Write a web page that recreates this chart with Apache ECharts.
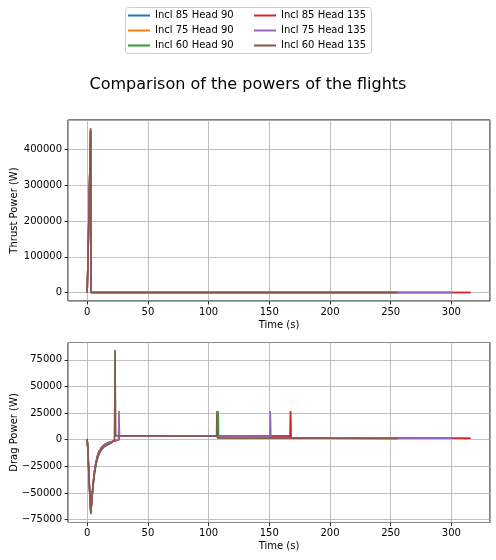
<!DOCTYPE html>
<html>
<head>
<meta charset="utf-8">
<script src="https://cdn.jsdelivr.net/npm/echarts@6/dist/echarts.min.js"></script>
<style>html,body{margin:0;padding:0;background:#fff}#c{width:496px;height:560px}</style>
</head>
<body>
<div id="c"></div>
<script>
// ---------- DATA ----------
const seriesNames = ['Incl 85 Head 90','Incl 75 Head 90','Incl 60 Head 90','Incl 85 Head 135','Incl 75 Head 135','Incl 60 Head 135'];
const seriesColors = ['#1f77b4','#ff7f0e','#2ca02c','#d62728','#9467bd','#8c564b'];
const xTicks = [0,50,100,150,200,250,300];

// Thrust power [time s, W]
const thrust_85_90  = [[0,0],[0.5,68000],[1,146000],[1.5,228000],[2,312000],[2.5,392000],[2.8,450000],[3.3,0],[315,0]];
const thrust_75_90  = [[0,0],[0.5,69000],[1,148000],[1.5,231000],[2,315000],[2.5,396000],[2.8,454000],[3.3,0],[300,0]];
const thrust_60_90  = [[0,0],[0.5,70000],[1,150000],[1.5,234000],[2,319000],[2.5,400000],[2.8,458000],[3.3,0],[255,0]];
const thrust_85_135 = [[0,0],[0.5,68000],[1,146000],[1.5,228000],[2,312000],[2.5,392000],[2.8,451000],[3.3,0],[316,0]];
const thrust_75_135 = [[0,0],[0.5,69000],[1,148000],[1.5,231000],[2,315000],[2.5,396000],[2.8,455000],[3.3,0],[301,0]];
const thrust_60_135 = [[0,0],[0.5,70000],[1,150000],[1.5,234000],[2,320000],[2.5,401000],[2.8,459000],[3.3,0],[256,0]];

// Drag power [time s, W]
const drag_85_90  = [[0,600],[0.5,-7500],[1,-21000],[2,-47000],[3,-68500],[4,-52500],[5,-39500],[6,-29500],[7,-22500],[8,-17000],[9,-13000],[10,-10500],[12,-7000],[14,-4900],[16,-3600],[18,-2600],[20,-1800],[22,-1200],[24,-700],[26,-300],[26.5,3600],[60,3600],[100,3500],[167.2,3400],[167.5,26500],[167.9,1600],[250,1400],[315,1300]];
const drag_75_90  = [[0,600],[0.5,-8000],[1,-22000],[2,-48000],[3,-69000],[4,-53000],[5,-40000],[6,-30000],[7,-23000],[8,-17500],[9,-13500],[10,-10800],[12,-7200],[14,-5000],[16,-3700],[18,-2700],[20,-1900],[22,-1300],[24,-800],[25.8,-400],[26.2,26500],[26.6,3600],[60,3600],[100,3500],[150.5,3400],[150.8,26500],[151.2,1600],[200,1500],[300,1300]];
const drag_60_90  = [[0,800],[0.5,-8500],[1,-22500],[2,-49000],[3,-70000],[4,-55500],[5,-42500],[6,-32500],[7,-25500],[8,-20000],[9,-16000],[10,-13000],[12,-9200],[14,-6800],[16,-5400],[18,-4200],[20,-3000],[21.5,-2100],[22.5,-500],[23,84000],[23.4,3800],[40,3700],[60,3600],[80,3500],[107.6,3400],[107.9,27000],[108.3,1500],[150,1400],[200,1300],[255,1100]];
const drag_85_135 = [[0,600],[0.5,-7500],[1,-21000],[2,-47000],[3,-68500],[4,-52500],[5,-39500],[6,-29500],[7,-22500],[8,-17000],[9,-13000],[10,-10500],[12,-7000],[14,-4900],[16,-3600],[18,-2600],[20,-1800],[22,-1200],[24,-700],[26,-300],[26.5,3600],[60,3600],[100,3500],[167.2,3400],[167.5,27000],[167.9,1600],[250,1400],[316,1300]];
const drag_75_135 = [[0,600],[0.5,-8000],[1,-22000],[2,-48000],[3,-69000],[4,-53000],[5,-40000],[6,-30000],[7,-23000],[8,-17500],[9,-13500],[10,-10800],[12,-7200],[14,-5000],[16,-3700],[18,-2700],[20,-1900],[22,-1300],[24,-800],[25.8,-400],[26.2,27200],[26.6,3600],[60,3600],[100,3500],[150.5,3400],[150.8,27000],[151.2,1600],[200,1500],[301,1300]];
const drag_60_135 = [[0,800],[0.5,-8000],[1,-22000],[2,-48000],[3,-69600],[4,-55000],[5,-42000],[6,-32000],[7,-25000],[8,-19500],[9,-15500],[10,-12500],[12,-8800],[14,-6500],[16,-5200],[18,-4000],[20,-2800],[21.5,-2000],[22.5,-500],[23,84000],[23.4,3800],[40,3700],[60,3600],[80,3500],[106.5,3400],[106.8,27000],[107.2,1700],[150,1600],[200,1400],[256,1200]];

const thrustData = [thrust_85_90, thrust_75_90, thrust_60_90, thrust_85_135, thrust_75_135, thrust_60_135];
const dragData = [drag_85_90, drag_75_90, drag_60_90, drag_85_135, drag_75_135, drag_60_135];

// ---------- CHART ----------
const FONT = 'DejaVu Sans';
const chart = echarts.init(document.getElementById('c'), null, {renderer:'canvas', width:496, height:560});

function minus(v){ return String(v).replace('-', '\u2212'); }
function multipleOf(step){
  return function(v){
    if (Math.abs(v/step - Math.round(v/step)) > 1e-6) return '';
    return minus(Math.round(v));
  };
}

function xAxis(gridIndex){
  return {
    type:'value', gridIndex, min:-15.8, max:331.8, minInterval:50, maxInterval:50,
    name:'Time (s)', nameLocation:'middle', nameGap:19, nameMoveOverlap:false,
    nameTextStyle:{fontFamily:FONT, fontSize:10, color:'#000'},
    axisLine:{show:false, onZero:false},
    axisTick:{show:true, length:3.5, lineStyle:{color:'#000', width:0.8}},
    axisLabel:{fontFamily:FONT, fontSize:10, color:'#000', margin:6, showMinLabel:false, showMaxLabel:false, formatter:multipleOf(50)},
    splitLine:{show:true, lineStyle:{color:'#b0b0b0', width:0.8}}
  };
}
function yAxis(gridIndex, min, max, step, name){
  return {
    type:'value', gridIndex, min, max, minInterval:step, maxInterval:step,
    name, nameLocation:'middle', nameGap:49, nameRotate:90, nameMoveOverlap:false,
    nameTextStyle:{fontFamily:FONT, fontSize:10, color:'#000'},
    axisLine:{show:false, onZero:false},
    axisTick:{show:true, length:3.5, lineStyle:{color:'#000', width:0.8}},
    axisLabel:{fontFamily:FONT, fontSize:10, color:'#000', margin:6, showMinLabel:false, showMaxLabel:false, formatter:multipleOf(step)},
    splitLine:{show:true, lineStyle:{color:'#b0b0b0', width:0.8}}
  };
}

const series = [];
seriesNames.forEach((n,i)=>{
  series.push({name:n, type:'line', xAxisIndex:0, yAxisIndex:0, data:thrustData[i], symbol:'none', showSymbol:false,
    color:seriesColors[i], lineStyle:{width:1.5, color:seriesColors[i]}, z:2+i*0.01, animation:false});
});
seriesNames.forEach((n,i)=>{
  series.push({name:n, type:'line', xAxisIndex:1, yAxisIndex:1, data:dragData[i], symbol:'none', showSymbol:false,
    color:seriesColors[i], lineStyle:{width:1.5, color:seriesColors[i]}, z:2+i*0.01, animation:false});
});

const legendCommon = {
  orient:'vertical', icon:'rect', itemWidth:22, itemHeight:2, itemGap:3,
  textStyle:{fontFamily:FONT, fontSize:10, color:'#000', lineHeight:12},
  selectedMode:false, padding:0
};

chart.setOption({
  animation:false,
  backgroundColor:'#fff',
  title:{text:'Comparison of the powers of the flights', left:'center', top:72,
    textStyle:{fontFamily:FONT, fontSize:16, fontWeight:'normal', color:'#000'}},
  graphic:[{type:'rect', shape:{x:125.5, y:7.5, width:246, height:46, r:3}, style:{fill:'#fff', stroke:'#cccccc', lineWidth:1}, z:0}],
  legend:[
    Object.assign({}, legendCommon, {left:128, top:9.5, data:seriesNames.slice(0,3)}),
    Object.assign({}, legendCommon, {left:254, top:9.5, data:seriesNames.slice(3,6)})
  ],
  grid:[
    {left:68, top:120, width:422, height:181, show:true, borderColor:'#000', borderWidth:1, backgroundColor:'transparent', containLabel:false, outerBoundsMode:'none'},
    {left:68, top:342.5, width:422, height:180, show:true, borderColor:'#000', borderWidth:1, backgroundColor:'transparent', containLabel:false, outerBoundsMode:'none'}
  ],
  xAxis:[xAxis(0), xAxis(1)],
  yAxis:[yAxis(0, -23500, 482000, 100000, 'Thrust Power (W)'), yAxis(1, -77800, 91300, 25000, 'Drag Power (W)')],
  series
});
</script>
</body>
</html>
